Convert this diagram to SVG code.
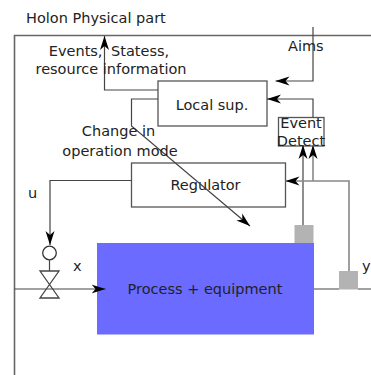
<svg xmlns="http://www.w3.org/2000/svg" width="371" height="375" viewBox="0 0 371 375">
<style>
text{font-family:"DejaVu Sans",sans-serif;font-size:14.5px;fill:#222}
.m{text-anchor:middle}
.l{fill:none;stroke:#444;stroke-width:1.2}
.s{fill:none;stroke:#888;stroke-width:1.6}
.b{fill:#fff;stroke:#555;stroke-width:1.3}
.g{fill:#b3b3b3}
.h{fill:#000}
</style>
<defs>
<marker id="a" markerUnits="userSpaceOnUse" markerWidth="15" markerHeight="10" refX="14" refY="5" orient="auto"><path class="h" d="M0 .5L14 5L0 9.500L4 5Z"/></marker>
</defs>
<rect width="371" height="375" fill="#fff"/>
<g id="frame"><path d="M14.500 375V35.500H371" fill="none" stroke="#666" stroke-width="1.600"/></g>
<g id="local"><rect class="b" x="158" y="81" width="109" height="45"/><text class="m" x="212" y="110">Local sup.</text></g>
<g id="regulator"><rect class="b" x="131.500" y="163" width="154" height="44"/><text class="m" x="205.500" y="190">Regulator</text></g>
<g id="event"><rect class="b" x="278.500" y="117.500" width="45.500" height="28.500"/></g>
<g id="process"><rect x="97" y="243" width="217" height="91.500" fill="#6b6bff"/><text class="m" x="205" y="293.500">Process + equipment</text></g>
<g id="sensor1"><rect class="g" x="294.500" y="225" width="19" height="18"/></g>
<g id="sensor2"><rect class="g" x="339" y="271" width="19" height="18.500"/></g>
<g id="valve">
<circle cx="49.500" cy="253" r="6.800" fill="none" stroke="#333" stroke-width="1.300"/>
<path class="l" d="M49.500 260V271"/>
<path d="M40 271H59L40 298H59Z" fill="none" stroke="#444" stroke-width="1.300"/>
</g>
<g id="connectors">
<path class="l" d="M158 90H104.500V36" marker-end="url(#a)"/>
<path class="l" d="M158 99H131.500V126L250 226" marker-end="url(#a)"/>
<path class="l" d="M313 27V81H275.500" marker-end="url(#a)"/>
<path class="l" d="M313 117.500V99H267" marker-end="url(#a)"/>
<path class="l" d="M303 225V145" marker-end="url(#a)"/>
<path class="s" d="M313 181V145" marker-end="url(#a)"/>
<path class="s" d="M349 271V181H285.500" marker-end="url(#a)"/>
<path class="l" d="M131.500 180.500H50V245" marker-end="url(#a)"/>
<path class="l" d="M14.500 289H105.500" marker-end="url(#a)"/>
<path class="l" d="M314 289H339M358 289H371"/>
</g>
<g id="labels">
<text x="26" y="22.500">Holon Physical part</text>
<text class="m" x="109" y="55.500" word-spacing="4">Events, Statess,</text>
<text class="m" x="111" y="74">resource information</text>
<text class="m" x="118.500" y="136">Change in</text>
<text class="m" x="120" y="156">operation mode</text>
<text x="288" y="51">Aims</text>
<text class="m" x="301" y="128">Event</text>
<text class="m" x="301" y="146">Detect</text>
<text x="28" y="198">u</text>
<text x="73" y="271">x</text>
<text x="362" y="271">y</text>
</g>
</svg>
